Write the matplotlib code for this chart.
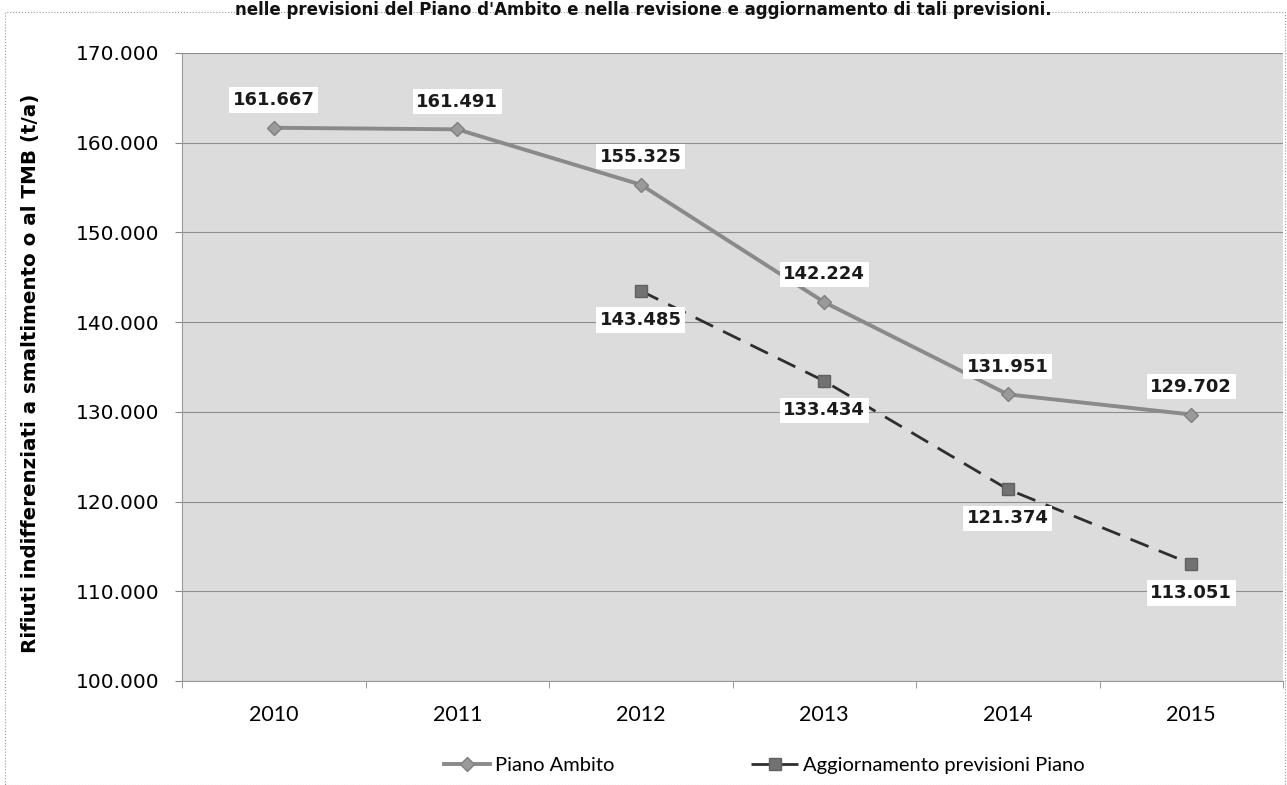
import matplotlib.pyplot as plt
from matplotlib.patches import Rectangle
from matplotlib.ticker import FuncFormatter

# dati
anni = ['2010', '2011', '2012', '2013', '2014', '2015']
piano_ambito = [161667, 161491, 155325, 142224, 131951, 129702]
aggiornamento = [None, None, 143485, 133434, 121374, 113051]
titolo = "nelle previsioni del Piano d'Ambito e nella revisione e aggiornamento di tali previsioni."


def fmt_it(v, pos=None):
    return '{:,.0f}'.format(v).replace(',', '.')


plt.rcParams['font.family'] = ['DejaVu Sans']

W, H = 1287, 785
fig = plt.figure(figsize=(W / 100, H / 100), dpi=100)
ax = fig.add_axes([182 / W, 1 - 681 / H, 1101 / W, 628 / H])
ax.set_facecolor('#dcdcdc')

x = list(range(len(anni)))
ax.plot(x, piano_ambito, color='#8a8a8a', lw=2.8, marker='D', ms=7,
        mfc='#9a9a9a', mec='#808080', label='Piano Ambito', zorder=3)
xa = [i for i, v in zip(x, aggiornamento) if v is not None]
ya = [v for v in aggiornamento if v is not None]
ax.plot(xa, ya, color='#2e2e2e', lw=2.0, ls=(0, (7, 4)), marker='s', ms=9,
        mfc='#727272', mec='#606060', label='Aggiornamento previsioni Piano', zorder=3)

# etichette dei valori
box = dict(boxstyle='square,pad=0.2', fc='white', ec='none')
for i, v in zip(x, piano_ambito):
    ax.annotate(fmt_it(v), (i, v), xytext=(0, 20), textcoords='offset points',
                ha='center', va='center', fontsize=13, fontweight='bold',
                color='#1a1a1a', bbox=box, zorder=4)
for i, v in zip(xa, ya):
    ax.annotate(fmt_it(v), (i, v), xytext=(0, -21), textcoords='offset points',
                ha='center', va='center', fontsize=13, fontweight='bold',
                color='#1a1a1a', bbox=box, zorder=4)

ax.set_xlim(-0.5, 5.5)
ax.set_ylim(100000, 170000)
ax.set_yticks(range(100000, 170001, 10000))
ax.yaxis.set_major_formatter(FuncFormatter(fmt_it))
ax.set_xticks(x)
ax.set_xticklabels(anni, family=['Lato', 'DejaVu Sans'])
ax.set_xticks([i - 0.5 for i in range(7)], minor=True)
ax.tick_params(axis='x', which='major', length=0, pad=17, labelsize=15.5)
ax.tick_params(axis='x', which='minor', length=5, color='#888888')
ax.tick_params(axis='y', length=5, color='#888888', pad=11, labelsize=14.5)
ax.grid(axis='y', color='#8e8e8e', lw=0.8)
ax.set_axisbelow(True)
for s in ['top', 'right']:
    ax.spines[s].set_visible(False)
ax.spines['left'].set_color('#9a9a9a')
ax.spines['bottom'].set_color('#9a9a9a')

ax.set_ylabel('Rifiuti indifferenziati a smaltimento o al TMB (t/a)',
              fontsize=14.3, fontweight='bold')
ax.yaxis.set_label_coords((40 - 182) / 1101, 0.49)

fig.legend(loc='center', bbox_to_anchor=(764 / W, 1 - 765 / H), ncol=2,
           frameon=False, columnspacing=6.8, handlelength=2.3,
           handletextpad=0.25, prop={'family': ['Lato', 'DejaVu Sans'], 'size': 14.5})

# titolo (in alto, tagliato nell'originale)
fig.text(0.5, 1 - 1 / H, titolo, ha='center', va='top', fontsize=12,
         fontweight='bold', color='#111111')

# bordo punteggiato
fig.add_artist(Rectangle((5 / W, 0), 1280 / W, 1 - 12 / H, transform=fig.transFigure,
                         fill=False, ec='#999999', lw=0.8, ls=':'))

fig.savefig('out.png', dpi=100)
